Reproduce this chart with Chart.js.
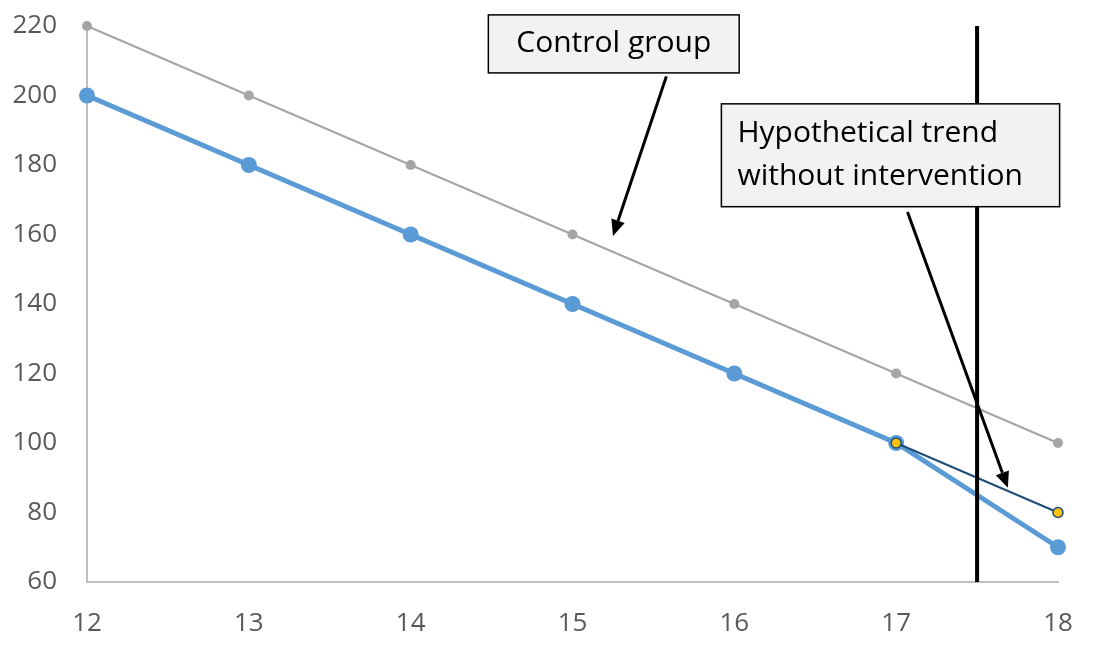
<!DOCTYPE html>
<html>
<head>
<meta charset="utf-8">
<script src="https://cdn.jsdelivr.net/npm/chart.js@4.4.1/dist/chart.umd.min.js"></script>
<style>
  html, body { margin: 0; padding: 0; background: #fff; }
  #wrap { width: 1093px; height: 651px; }
</style>
</head>
<body>
<div id="wrap"><canvas id="grafico"></canvas></div>
<script>
// datos
const years = [12, 13, 14, 15, 16, 17, 18];
const controlGroup = [220, 200, 180, 160, 140, 120, 100];
const treated = [200, 180, 160, 140, 120, 100, 70];
const hypYears = [17, 18];
const hypothetical = [100, 80];
const interventionAt = 17.5;
const yTicks = [60, 80, 100, 120, 140, 160, 180, 200, 220];

const fontFamily = "'Open Sans', 'Noto Sans', sans-serif";

function pares(xs, ys) {
  return xs.map((x, i) => ({ x: x, y: ys[i] }));
}

// notas con flecha, en coordenadas de los ejes
const notas = [
  { lines: ["Control group"], x0: 14.48, x1: 16.03, y0: 223.2, y1: 206.5, align: "center",
    arrow: [15.58, 205.5, 15.25, 159.6] },
  { lines: ["Hypothetical trend", "without intervention"], x0: 15.92, x1: 18.01, y0: 197.6, y1: 168.0, align: "left",
    arrow: [17.07, 166.5, 17.69, 87.1] }
];

function flecha(ctx, x1, y1, x2, y2) {
  const ang = Math.atan2(y2 - y1, x2 - x1);
  const len = 16, ancho = 7;
  const bx = x2 - len * Math.cos(ang), by = y2 - len * Math.sin(ang);
  ctx.beginPath();
  ctx.moveTo(x1, y1);
  ctx.lineTo(bx, by);
  ctx.strokeStyle = "#000";
  ctx.lineWidth = 3;
  ctx.stroke();
  ctx.beginPath();
  ctx.moveTo(x2, y2);
  ctx.lineTo(bx + ancho * Math.sin(ang), by - ancho * Math.cos(ang));
  ctx.lineTo(bx - ancho * Math.sin(ang), by + ancho * Math.cos(ang));
  ctx.closePath();
  ctx.fillStyle = "#000";
  ctx.fill();
}

const anotaciones = {
  id: "anotaciones",
  afterDatasetsDraw(chart) {
    const ctx = chart.ctx;
    const xs = chart.scales.x, ys = chart.scales.y;
    ctx.save();
    // linea vertical de la intervencion
    const vx = xs.getPixelForValue(interventionAt);
    ctx.beginPath();
    ctx.moveTo(vx, ys.getPixelForValue(220));
    ctx.lineTo(vx, ys.getPixelForValue(60));
    ctx.strokeStyle = "#000";
    ctx.lineWidth = 4;
    ctx.stroke();

    notas.forEach(n => {
      const a = n.arrow;
      flecha(ctx, xs.getPixelForValue(a[0]), ys.getPixelForValue(a[1]),
        xs.getPixelForValue(a[2]), ys.getPixelForValue(a[3]));
      const l = xs.getPixelForValue(n.x0), r = xs.getPixelForValue(n.x1);
      const t = ys.getPixelForValue(n.y0), b = ys.getPixelForValue(n.y1);
      ctx.fillStyle = "#f2f2f2";
      ctx.fillRect(l, t, r - l, b - t);
      ctx.strokeStyle = "#000";
      ctx.lineWidth = 1.5;
      ctx.strokeRect(l, t, r - l, b - t);
      ctx.fillStyle = "#000";
      ctx.font = "30px " + fontFamily;
      ctx.textBaseline = "middle";
      const paso = 43;
      const y0 = (t + b) / 2 - (n.lines.length - 1) * paso / 2;
      n.lines.forEach((txt, i) => {
        if (n.align === "center") {
          ctx.textAlign = "center";
          ctx.fillText(txt, (l + r) / 2, y0 + i * paso);
        } else {
          ctx.textAlign = "left";
          ctx.fillText(txt, l + 16, y0 + i * paso);
        }
      });
    });
    ctx.restore();
  }
};

const ctx = document.getElementById("grafico").getContext("2d");
const chart = new Chart(ctx, {
  type: "line",
  data: {
    datasets: [
      {
        label: "Control group",
        data: pares(years, controlGroup),
        borderColor: "#a5a5a5",
        backgroundColor: "#a5a5a5",
        borderWidth: 2,
        pointRadius: 5,
        pointBorderWidth: 0,
        tension: 0,
        clip: false,
        order: 2
      },
      {
        label: "Treated",
        data: pares(years, treated),
        borderColor: "#5b9bd5",
        backgroundColor: "#5b9bd5",
        borderWidth: 5,
        pointRadius: 8,
        pointBorderWidth: 0,
        tension: 0,
        clip: false,
        order: 1
      },
      {
        label: "Hypothetical",
        data: pares(hypYears, hypothetical),
        borderColor: "#1f4e79",
        backgroundColor: "#ffc000",
        borderWidth: 2,
        pointRadius: 5,
        pointBorderColor: "#1f4e79",
        pointBorderWidth: 1.5,
        tension: 0,
        clip: false,
        order: 0
      }
    ]
  },
  options: {
    responsive: true,
    maintainAspectRatio: false,
    animation: false,
    layout: { padding: { top: 26, right: 35, left: 0, bottom: 0 } },
    plugins: {
      legend: { display: false },
      tooltip: { enabled: false }
    },
    scales: {
      x: {
        type: "linear",
        min: 12,
        max: 18,
        grid: { display: false, drawTicks: false },
        border: { color: "#bfbfbf", width: 2 },
        ticks: {
          stepSize: 1,
          padding: 26,
          color: "#595959",
          font: { family: fontFamily, size: 26 }
        },
        afterFit(s) {
          s.height = 69;
          s.paddingLeft = 0;
          s.paddingRight = 0;
        }
      },
      y: {
        min: 60,
        max: 220,
        grid: { display: false, drawTicks: false },
        border: { color: "#bfbfbf", width: 2 },
        afterBuildTicks(s) { s.ticks = yTicks.map(v => ({ value: v })); },
        ticks: {
          padding: 30,
          color: "#595959",
          font: { family: fontFamily, size: 26 }
        },
        afterFit(s) {
          s.width = 87;
          s.paddingTop = 0;
          s.paddingBottom = 0;
        }
      }
    }
  },
  plugins: [anotaciones]
});
</script>
</body>
</html>
